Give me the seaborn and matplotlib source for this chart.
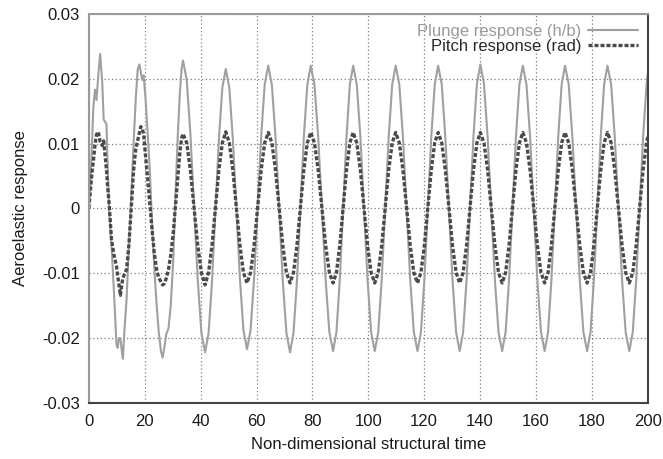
import matplotlib
matplotlib.use("Agg")
import matplotlib.pyplot as plt
import seaborn as sns

# time axis (non-dimensional structural time), shared by both responses
time = [
    0, 0.6, 1.2, 1.6, 2.2, 2.75, 3.35, 4.05, 4.8, 5.3,
    6.3, 6.7, 7.3, 8.1, 9.0, 9.9, 10.3, 10.8, 11.3, 11.8,
    12.2, 12.7, 13.5, 14.3, 15.2, 16.0, 16.8, 17.5, 18.1, 18.6,
    19.1, 19.6, 20.2, 21.0, 21.8, 22.6, 23.4, 24.2, 25.0, 25.8,
    26.4, 27.0, 27.7, 28.5, 29.3, 30.2, 31.0, 31.8, 32.6, 33.2,
    33.7,
    35.02, 36.33, 37.65, 38.97, 40.28, 41.6,
    42.83, 44.07, 45.30, 46.53, 47.77, 49.0,
    50.27, 51.53, 52.80, 54.07, 55.33, 56.6,
    57.87, 59.13, 60.40, 61.67, 62.93, 64.2,
    65.5, 66.8, 68.1, 69.4, 70.7, 72.0,
    73.23, 74.47, 75.70, 76.93, 78.17, 79.4,
    80.73, 82.07, 83.40, 84.73, 86.07, 87.4,
    88.6, 89.8, 91.0, 92.2, 93.4, 94.6,
    95.88, 97.17, 98.45, 99.73, 101.02, 102.3,
    103.55, 104.8, 106.05, 107.3, 108.55, 109.8,
    111.1, 112.4, 113.7, 115.0, 116.3, 117.6,
    118.83, 120.07, 121.3, 122.53, 123.77, 125.0,
    126.28, 127.57, 128.85, 130.13, 131.42, 132.7,
    133.93, 135.17, 136.4, 137.63, 138.87, 140.1,
    141.4, 142.7, 144.0, 145.3, 146.6, 147.9,
    149.13, 150.37, 151.6, 152.83, 154.07, 155.3,
    156.6, 157.9, 159.2, 160.5, 161.8, 163.1,
    164.32, 165.53, 166.75, 167.97, 169.18, 170.4,
    171.72, 173.03, 174.35, 175.67, 176.98, 178.3,
    179.52, 180.73, 181.95, 183.17, 184.38, 185.6,
    186.9, 188.2, 189.5, 190.8, 192.1, 193.4,
    194.63, 195.87, 197.1, 198.33, 199.57, 200.0,
]

# plunge response (h/b)
plunge = [
    0, 0.004, 0.011, 0.0155, 0.0183, 0.0167, 0.0204, 0.0238, 0.0194, 0.0137,
    0.013, 0.007, -0.0005, -0.0055, -0.013, -0.021, -0.0215, -0.0200, -0.0200, -0.0220,
    -0.0232, -0.019, -0.014, -0.006, 0.002, 0.010, 0.017, 0.0215, 0.0222, 0.021,
    0.0198, 0.0205, 0.0175, 0.012, 0.006, -0.002, -0.009, -0.0145, -0.019, -0.022,
    -0.023, -0.0215, -0.0194, -0.0185, -0.015, -0.008, 0.002, 0.011, 0.018, 0.0215,
    0.0228,
    0.0198, 0.0116, 0.0003, -0.0110, -0.0192, -0.0222,
    -0.0193, -0.0113, -0.0004, 0.0106, 0.0186, 0.0215,
    0.0186, 0.0107, -0.0001, -0.0109, -0.0188, -0.0217,
    -0.0188, -0.0108, 0.0002, 0.0111, 0.0191, 0.0220,
    0.0190, 0.0110, -0.0001, -0.0112, -0.0192, -0.0222,
    -0.0192, -0.0112, -0.0001, 0.0110, 0.0190, 0.0220,
    0.0191, 0.0110, 0.0, -0.0110, -0.0191, -0.0220,
    -0.0191, -0.0110, 0.0, 0.0110, 0.0191, 0.0220,
    0.0191, 0.0110, 0.0, -0.0110, -0.0191, -0.0220,
    -0.0191, -0.0110, 0.0, 0.0110, 0.0191, 0.0220,
    0.0191, 0.0110, 0.0, -0.0110, -0.0191, -0.0220,
    -0.0191, -0.0110, 0.0, 0.0110, 0.0191, 0.0220,
    0.0191, 0.0110, 0.0, -0.0110, -0.0191, -0.0220,
    -0.0191, -0.0110, 0.0, 0.0111, 0.0192, 0.0222,
    0.0192, 0.0110, 0.0, -0.0110, -0.0191, -0.0220,
    -0.0191, -0.0110, 0.0, 0.0110, 0.0191, 0.0220,
    0.0191, 0.0110, 0.0, -0.0110, -0.0191, -0.0220,
    -0.0191, -0.0110, 0.0, 0.0110, 0.0191, 0.0220,
    0.0191, 0.0110, 0.0, -0.0110, -0.0191, -0.0220,
    -0.0191, -0.0110, 0.0, 0.0110, 0.0191, 0.0220,
    0.0191, 0.0110, 0.0, -0.0110, -0.0191, -0.0220,
    -0.0191, -0.0110, 0.0, 0.0110, 0.0191, 0.0207,
]

# pitch response (rad)
pitch = [
    0, 0.003, 0.0058, 0.0072, 0.0098, 0.0114, 0.0118, 0.0103, 0.0097, 0.0104,
    0.006, 0.0035, 0.0005, -0.0048, -0.0072, -0.0089, -0.0103, -0.0118, -0.0134, -0.0117,
    -0.0107, -0.0102, -0.0094, -0.0058, 0.0002, 0.0058, 0.0092, 0.0105, 0.0116, 0.0126,
    0.0123, 0.0115, 0.0085, 0.0048, 0.0008, -0.0032, -0.0068, -0.0093, -0.0107, -0.0113,
    -0.0118, -0.0116, -0.0108, -0.0094, -0.0072, -0.0038, 0.0004, 0.0048, 0.0088, 0.0108,
    0.0115,
    0.0101, 0.0059, 0.0001, -0.0057, -0.0099, -0.0118,
    -0.0099, -0.0057, 0.0001, 0.0059, 0.0101, 0.0118,
    0.0101, 0.0059, 0.0001, -0.0057, -0.0099, -0.0115,
    -0.0099, -0.0057, 0.0001, 0.0059, 0.0101, 0.0117,
    0.0101, 0.0059, 0.0001, -0.0057, -0.0099, -0.0115,
    -0.0099, -0.0057, 0.0001, 0.0059, 0.0101, 0.0117,
    0.0101, 0.0059, 0.0001, -0.0057, -0.0099, -0.0115,
    -0.0099, -0.0057, 0.0001, 0.0059, 0.0101, 0.0117,
    0.0101, 0.0059, 0.0001, -0.0057, -0.0099, -0.0115,
    -0.0099, -0.0057, 0.0001, 0.0059, 0.0101, 0.0117,
    0.0101, 0.0059, 0.0001, -0.0057, -0.0099, -0.0115,
    -0.0099, -0.0057, 0.0001, 0.0059, 0.0101, 0.0117,
    0.0101, 0.0059, 0.0001, -0.0057, -0.0099, -0.0115,
    -0.0099, -0.0057, 0.0001, 0.0059, 0.0101, 0.0117,
    0.0101, 0.0059, 0.0001, -0.0057, -0.0099, -0.0115,
    -0.0099, -0.0057, 0.0001, 0.0059, 0.0101, 0.0117,
    0.0101, 0.0059, 0.0001, -0.0057, -0.0099, -0.0115,
    -0.0099, -0.0057, 0.0001, 0.0059, 0.0101, 0.0117,
    0.0101, 0.0059, 0.0001, -0.0057, -0.0099, -0.0115,
    -0.0099, -0.0057, 0.0001, 0.0059, 0.0101, 0.0117,
    0.0101, 0.0059, 0.0001, -0.0057, -0.0099, -0.0115,
    -0.0099, -0.0057, 0.0001, 0.0059, 0.0101, 0.0110,
]

x_ticks = [0, 20, 40, 60, 80, 100, 120, 140, 160, 180, 200]
y_ticks = [-0.03, -0.02, -0.01, 0, 0.01, 0.02, 0.03]
y_tick_labels = ["-0.03", "-0.02", "-0.01", "0", "0.01", "0.02", "0.03"]

sns.set_theme(style="white")
plt.rcParams["font.family"] = ["Liberation Sans", "DejaVu Sans"]

fig = plt.figure(figsize=(6.63, 4.59), dpi=100)
ax = fig.add_axes([0.134, 0.122, 0.843, 0.848])

sns.lineplot(x=time, y=plunge, ax=ax, color="#a0a0a0", linewidth=1.5,
             label="Plunge response (h/b)", sort=False)
sns.lineplot(x=time, y=pitch, ax=ax, color="#4a4a4a", linewidth=2.4,
             label="Pitch response (rad)", sort=False)
ax.lines[1].set_dashes((1.2, 0.6))

ax.set_xlim(0, 200)
ax.set_ylim(-0.03, 0.03)
ax.set_xticks(x_ticks)
ax.set_xticklabels([str(v) for v in x_ticks])
ax.set_yticks(y_ticks)
ax.set_yticklabels(y_tick_labels)
ax.tick_params(length=0, labelsize=12, colors="#1a1a1a")
ax.tick_params(axis="x", pad=8)
ax.tick_params(axis="y", pad=6.5)

ax.grid(True, color="#808080", linestyle=(0, (1, 2)), linewidth=0.9)

for side in ["left", "top"]:
    ax.spines[side].set_color("#9a9a9a")
for side in ["bottom", "right"]:
    ax.spines[side].set_color("#444444")
for side in ax.spines:
    ax.spines[side].set_linewidth(1.5)

ax.set_xlabel("Non-dimensional structural time", fontsize=12, color="#1a1a1a", labelpad=6)
ax.set_ylabel("Aeroelastic response", fontsize=12, color="#1a1a1a", labelpad=10)

leg = ax.legend(loc="upper right", frameon=False, markerfirst=False, fontsize=12,
                handlelength=3.0, labelspacing=0.0, borderaxespad=0.2,
                handletextpad=0.4)
leg.get_texts()[0].set_color("#9a9a9a")
leg.get_texts()[1].set_color("#2a2a2a")
leg.get_lines()[1].set_dashes((1.2, 0.6))

fig.savefig("out.png", dpi=100)
